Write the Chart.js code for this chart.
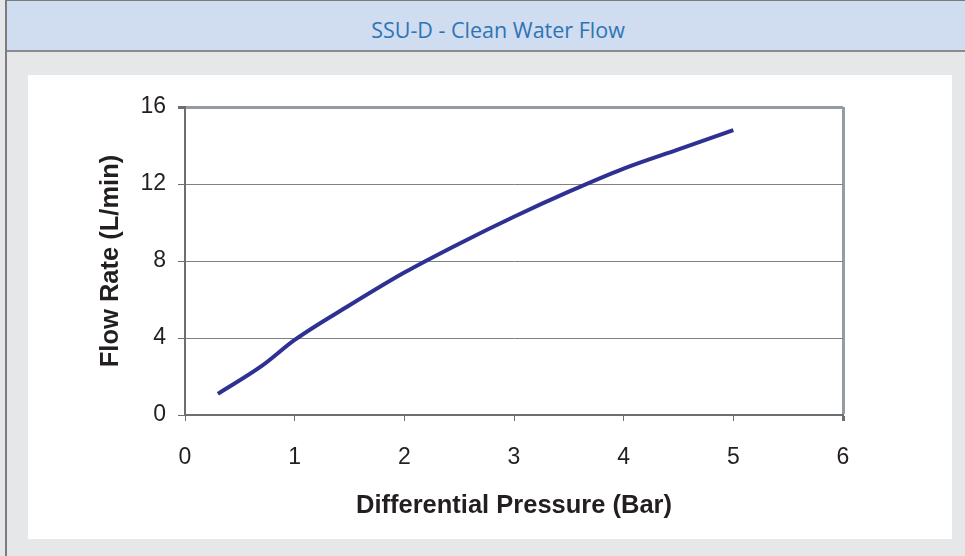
<!DOCTYPE html>
<html>
<head>
<meta charset="utf-8">
<script src="https://cdn.jsdelivr.net/npm/chart.js@4.4.1/dist/chart.umd.min.js"></script>
<style>
    body { margin: 0; width: 965px; height: 556px; overflow: hidden; background: #e6e7e9; font-family: "Liberation Sans", Arial, sans-serif; }
    .frame { position: absolute; left: 5px; top: 0; width: 970px; height: 560px; border-left: 2px solid #7c7c7c; border-top: 1px solid #7c7c7c; }
    .header { position: absolute; left: 0; top: 0; width: 100%; height: 49px; background: #d0dcef; border-bottom: 2px solid #8c8c8c; }
    .header span { position: absolute; left: 0; width: 982px; top: 0; line-height: 57px; text-align: center; font-family: "Open Sans", "Noto Sans", sans-serif; font-size: 21.5px; color: #2e74b5; }
    .panel { position: absolute; left: 28px; top: 75px; width: 924px; height: 464px; background: #fff; }
</style>
</head>
<body>
<div class="frame">
    <div class="header"><span>SSU-D - Clean Water Flow</span></div>
</div>
<div class="panel"><canvas id="flow-chart" width="924" height="464"></canvas></div>
<script>
// values
const pressure = [0.3, 0.7, 1, 1.5, 2, 2.5, 3, 3.5, 4, 4.5, 5];
const flowRate = [1.1, 2.55, 3.9, 5.7, 7.4, 8.9, 10.3, 11.6, 12.8, 13.8, 14.8];
const xTicks = [0, 1, 2, 3, 4, 5, 6];
const yTicks = [0, 4, 8, 12, 16];

const axisDark = '#6d6e71';
const frameGrey = '#959ba0';
const labelFont = { family: 'Liberation Sans', size: 23 };
const titleFont = { family: 'Liberation Sans', size: 25.5, weight: 'bold' };

const ctx = document.getElementById('flow-chart').getContext('2d');

new Chart(ctx, {
    type: 'line',
    data: {
        datasets: [{
            data: pressure.map((p, i) => ({ x: p, y: flowRate[i] })),
            borderColor: '#2e3192',
            borderWidth: 4,
            pointRadius: 0,
            cubicInterpolationMode: 'monotone',
            fill: false
        }]
    },
    options: {
        responsive: false,
        animation: false,
        devicePixelRatio: 1,
        layout: {
            padding: { left: 0, right: 109, top: 32, bottom: 0 }
        },
        plugins: {
            legend: { display: false },
            tooltip: { enabled: false }
        },
        scales: {
            x: {
                type: 'linear',
                min: 0,
                max: 6,
                afterBuildTicks: (scale) => { scale.ticks = xTicks.map(v => ({ value: v })); },
                afterFit: (scale) => { scale.height = 124; },
                border: { display: true, color: axisDark, width: 2 },
                grid: {
                    drawOnChartArea: true,
                    color: (c) => c.tick && c.tick.value === 6 ? frameGrey : 'rgba(0,0,0,0)',
                    lineWidth: (c) => c.tick && c.tick.value === 6 ? 3 : 1,
                    tickColor: axisDark,
                    tickLength: 6
                },
                ticks: {
                    color: '#231f20',
                    padding: 23,
                    font: labelFont
                },
                title: {
                    display: true,
                    text: 'Differential Pressure (Bar)',
                    color: '#231f20',
                    font: titleFont,
                    padding: { top: 0, bottom: 18 }
                }
            },
            y: {
                type: 'linear',
                min: 0,
                max: 16,
                afterBuildTicks: (scale) => { scale.ticks = yTicks.map(v => ({ value: v })); },
                afterFit: (scale) => { scale.width = 157; },
                border: { display: true, color: axisDark, width: 2 },
                grid: {
                    color: (c) => c.tick && c.tick.value === 16 ? frameGrey : '#808080',
                    lineWidth: (c) => c.tick && c.tick.value === 16 ? 3 : 1,
                    tickColor: axisDark,
                    tickLength: 7
                },
                ticks: {
                    color: '#231f20',
                    padding: 12,
                    font: labelFont
                },
                title: {
                    display: true,
                    text: 'Flow Rate (L/min)',
                    color: '#231f20',
                    font: titleFont,
                    padding: { top: 68, bottom: 0 }
                }
            }
        }
    }
});
</script>
</body>
</html>
